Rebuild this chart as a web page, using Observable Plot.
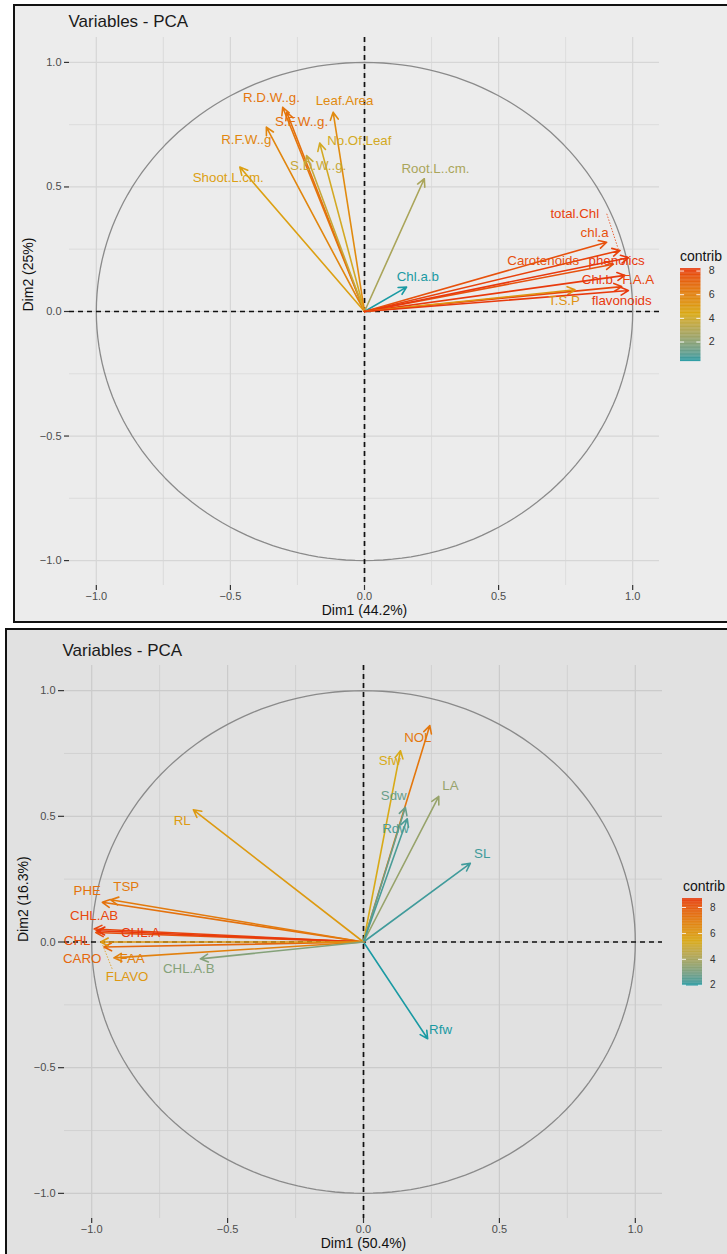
<!DOCTYPE html>
<html><head><meta charset="utf-8">
<script src="https://cdn.jsdelivr.net/npm/d3@7"></script>
<script src="https://cdn.jsdelivr.net/npm/@observablehq/plot@0.6"></script>
<style>
html,body{margin:0;padding:0;background:#fff;}
#page{position:relative;width:727px;height:1254px;overflow:hidden;font-family:"Liberation Sans",Arial,Helvetica,sans-serif;}
.panel{position:absolute;box-sizing:border-box;border:2px solid #111;}
.abs{position:absolute;}
.ltitle{position:absolute;font-size:14px;line-height:16px;color:#111;white-space:nowrap;}
</style></head><body><div id="page"></div>
<script>
// ---------------- DATA ----------------
// Panel A (top)
const topVars = ["Shoot.L.cm.","R.F.W..g","R.D.W..g.","S.F.W..g.","S.D.W..g.","No.Of.Leaf","Leaf.Area","Root.L..cm.","Chl.a.b","total.Chl","chl.a","Carotenoids","phenolics","Chl.b","F.A.A","T.S.P","flavonoids"];
const topDim1 = [-0.465,-0.366,-0.305,-0.290,-0.216,-0.167,-0.117,0.223,0.157,0.953,0.903,0.928,0.985,0.971,0.959,0.785,0.984];
const topDim2 = [0.580,0.740,0.820,0.800,0.626,0.676,0.800,0.533,0.098,0.245,0.278,0.190,0.216,0.145,0.100,0.087,0.084];
const topContrib = [4.7,5.8,6.4,6.6,3.7,4.1,5.6,2.8,0.35,8.0,7.6,7.6,8.22,8.2,7.9,5.3,8.2];
const topTitle = "Variables - PCA";
const topXLabel = "Dim1 (44.2%)";
const topYLabel = "Dim2 (25%)";

// Panel B (bottom)
const botVars = ["RL","NOL","Sfw","LA","Sdw","Rdw","SL","Rfw","PHE","TSP","CHL.AB","CHL","CHL.A","CARO","FAA","FLAVO","CHL.A.B"];
const botDim1 = [-0.626,0.244,0.136,0.277,0.154,0.161,0.393,0.236,-0.961,-0.930,-0.991,-0.985,-0.980,-0.955,-0.918,-0.967,-0.600];
const botDim2 = [0.526,0.861,0.761,0.579,0.536,0.490,0.313,-0.385,0.158,0.168,0.052,0.038,0.045,-0.020,-0.063,0.000,-0.067];
const botContrib = [5.9,7.1,5.3,3.6,2.7,2.3,2.2,1.95,7.3,7.0,8.4,8.2,8.7,7.6,6.8,6.0,3.2];
const botTitle = "Variables - PCA";
const botXLabel = "Dim1 (50.4%)";
const botYLabel = "Dim2 (16.3%)";

// Ticks
const majorTicks = [-1, -0.5, 0, 0.5, 1];
const minorTicks = [-0.75, -0.25, 0.25, 0.75];
const legendTicks = [2, 4, 6, 8];
const legendTitle = "contrib";

// ---------------- LAYOUT / STYLE ----------------
const COLS = ["#1a9aa3", "#d9aa14", "#e8380c"];
const FONT = '"Liberation Sans", Arial, Helvetica, sans-serif';
// label nudges in pixels [dx, dy] (repelled text placement)
const topNudges = {
  "Shoot.L.cm.":[-11.6,11.1],"R.F.W..g":[-20,12.6],"R.D.W..g.":[-11.2,-9.1],"S.F.W..g.":[14.8,9.9],
  "S.D.W..g.":[11.6,10.6],"No.Of.Leaf":[39.6,-2.7],"Leaf.Area":[11.4,-11.1],"Root.L..cm.":[11.2,-10],
  "Chl.a.b":[11.2,-9.9],"total.Chl":[-45.3,-36.7],"chl.a":[-12,-10],"Carotenoids":[-70.2,-3],
  "phenolics":[-12,3.5],"Chl.b":[-27.6,4.4],"F.A.A":[16.5,-6.8],"T.S.P":[-11,10.7],"flavonoids":[-6.7,10.6]
};
const topConnectors = {"total.Chl":[[-13.3,-36.7],[-1.9,-1.7]]};
const botNudges = {
  "RL":[-11.2,10.7],"NOL":[-12,11.7],"Sfw":[-10.7,10.5],"LA":[11.7,-10.9],"Sdw":[-11.6,-11.8],
  "Rdw":[-11.8,10],"SL":[11.9,-9.5],"Rfw":[12.9,-9.3],"PHE":[-15.1,-11.1],"TSP":[15.5,-13.3],
  "CHL.AB":[0,-13.4],"CHL":[-18.6,8],"CHL.A":[43.4,2.5],"CARO":[-21.7,11.8],"FAA":[18.2,1],
  "FLAVO":[26.5,35.2],"CHL.A.B":[-11.6,10]
};
const botConnectors = {"FLAVO":[[11.5,26.8],[1.5,1.8]]};

const page = document.getElementById("page");
function addDiv(cls, css, text) {
  const d = document.createElement("div");
  if (cls) d.className = cls;
  d.style.cssText = css;
  if (text) d.textContent = text;
  page.appendChild(d);
  return d;
}
function place(node, left, top) {
  const w = document.createElement("div");
  w.className = "abs";
  w.style.left = left + "px"; w.style.top = top + "px";
  w.appendChild(node);
  page.appendChild(w);
}
function colorOpts(contrib) {
  const lo = d3.min(contrib), hi = d3.max(contrib);
  return {type: "linear", domain: [lo, (lo + hi) / 2, hi], range: COLS, interpolate: "lab"};
}
const circle = d3.range(0, 361, 2).map(a => ({x: Math.cos(a * Math.PI / 180), y: Math.sin(a * Math.PI / 180)}));

function pcaPlot(cfg) {
  const rows = cfg.vars.map((v, i) => ({name: v, x: cfg.d1[i], y: cfg.d2[i], c: cfg.contrib[i]}));
  const W = 727;
  const sx = (W - cfg.ml - cfg.mr) / 2.2, sy = (cfg.height - cfg.mt - cfg.mb) / 2.2;
  const labelMarks = rows.map(r => {
    const n = cfg.nudges[r.name] || [0, -10];
    return Plot.text([r], {x: "x", y: "y", text: "name", fill: "c", dx: n[0], dy: n[1],
      fontSize: 13.3, fontFamily: FONT, textAnchor: "middle", lineAnchor: "middle"});
  });
  const conn = Object.entries(cfg.connectors).map(([name, [a, b]]) => {
    const r = rows.find(d => d.name === name);
    return {x1: r.x + a[0] / sx, y1: r.y - a[1] / sy, x2: r.x + b[0] / sx, y2: r.y - b[1] / sy, c: r.c};
  });
  const fmt = d3.format(".1f");
  return Plot.plot({
    width: W, height: cfg.height,
    marginLeft: cfg.ml, marginRight: cfg.mr, marginTop: cfg.mt, marginBottom: cfg.mb,
    x: {domain: [-1.1, 1.1]},
    y: {domain: [-1.1, 1.1]},
    color: colorOpts(cfg.contrib),
    style: {background: "transparent", fontFamily: FONT, fontSize: "11px", color: "#4d4d4d", overflow: "visible"},
    marks: [
      Plot.gridX({ticks: minorTicks, stroke: cfg.grid, strokeOpacity: 1, strokeWidth: 0.7}),
      Plot.gridY({ticks: minorTicks, stroke: cfg.grid, strokeOpacity: 1, strokeWidth: 0.7}),
      Plot.gridX({ticks: majorTicks, stroke: cfg.grid, strokeOpacity: 1, strokeWidth: 1.2}),
      Plot.gridY({ticks: majorTicks, stroke: cfg.grid, strokeOpacity: 1, strokeWidth: 1.2}),
      Plot.line(circle, {x: "x", y: "y", stroke: "#8a8a8a", strokeWidth: 1.3}),
      Plot.ruleX([0], {stroke: "#111", strokeWidth: 1.7, strokeDasharray: "5,4"}),
      Plot.ruleY([0], {stroke: "#111", strokeWidth: 1.7, strokeDasharray: "5,4"}),
      Plot.arrow(rows, {x1: 0, y1: 0, x2: "x", y2: "y", stroke: "c", strokeWidth: 1.6, headLength: 8, headAngle: 55}),
      Plot.link(conn, {x1: "x1", y1: "y1", x2: "x2", y2: "y2", stroke: "c", strokeWidth: 0.8, strokeDasharray: "1.5,1.5"}),
      ...labelMarks,
      Plot.axisX({ticks: majorTicks, tickFormat: fmt, tickSize: 5, tickPadding: 2, label: null,
        fontSize: 11, fill: "#4d4d4d", stroke: "#333", strokeWidth: 1.2}),
      Plot.axisY({ticks: majorTicks, tickFormat: fmt, tickSize: cfg.ytick, tickPadding: 3, label: null,
        fontSize: 11, fill: "#4d4d4d", stroke: "#333", strokeWidth: 1.2}),
      Plot.text([cfg.xlab], {frameAnchor: "bottom", dy: cfg.xlabDy, fontSize: 14, fill: "#111", fontFamily: FONT, lineAnchor: "middle"}),
      Plot.text([cfg.ylab], {frameAnchor: "left", dx: cfg.ylabDx, rotate: -90, fontSize: 14, fill: "#111", fontFamily: FONT, lineAnchor: "middle"}),
      Plot.text([cfg.title], {frameAnchor: "top-left", dx: cfg.titleDx, dy: cfg.titleDy, textAnchor: "start", fontSize: 17, fill: "#1a1a1a", fontFamily: FONT, lineAnchor: "middle"})
    ]
  });
}

function colorbar(contrib, w, h) {
  const lo = d3.min(contrib), hi = d3.max(contrib);
  const n = 120;
  const steps = d3.range(n).map(i => ({v0: lo + (hi - lo) * i / n, v1: lo + (hi - lo) * (i + 1.3) / n, v: lo + (hi - lo) * (i + 0.5) / n}));
  const ticks = legendTicks.filter(t => t >= lo && t <= hi);
  return Plot.plot({
    width: w + 30, height: h,
    marginLeft: 0, marginRight: 30, marginTop: 0, marginBottom: 0,
    x: {domain: [0, 1], axis: null},
    y: {domain: [lo, hi]},
    color: colorOpts(contrib),
    style: {background: "transparent", fontFamily: FONT, fontSize: "12px", color: "#333", overflow: "visible"},
    marks: [
      Plot.rect(steps, {x1: 0, x2: 1, y1: "v0", y2: (d) => Math.min(d.v1, hi), fill: "v"}),
      Plot.ruleY(ticks, {x1: 0, x2: 0.2, stroke: "white", strokeWidth: 1}),
      Plot.ruleY(ticks, {x1: 0.8, x2: 1, stroke: "white", strokeWidth: 1}),
      Plot.axisY({anchor: "right", ticks: ticks, tickFormat: d3.format("d"), tickSize: 0, tickPadding: 9, label: null, fontSize: 12, fill: "#333"})
    ]
  });
}

// ---------------- BUILD ----------------
addDiv("panel", "left:13px;top:4px;width:740px;height:619px;background:#ececec;");
addDiv("panel", "left:5px;top:628px;width:760px;height:680px;background:#e1e1e1;");

place(pcaPlot({vars: topVars, d1: topDim1, d2: topDim2, contrib: topContrib,
  nudges: topNudges, connectors: topConnectors, xlab: topXLabel, ylab: topYLabel, title: topTitle,
  height: 623, ml: 69, mr: 68, mt: 37, mb: 38, ytick: 5, xlabDy: 25, ylabDx: -41, titleDx: -1, titleDy: -16,
  grid: "#d6d6d6"}), 0, 0);

place(pcaPlot({vars: botVars, d1: botDim1, d2: botDim2, contrib: botContrib,
  nudges: botNudges, connectors: botConnectors, xlab: botXLabel, ylab: botYLabel, title: botTitle,
  height: 626, ml: 64, mr: 65, mt: 37, mb: 36, ytick: 6, xlabDy: 25, ylabDx: -41, titleDx: -2, titleDy: -15,
  grid: "#cbcbcb"}), 0, 628);

addDiv("ltitle", "left:680px;top:248px;", legendTitle);
place(colorbar(topContrib, 23, 105), 680, 268);
addDiv("ltitle", "left:683px;top:878px;", legendTitle);
place(colorbar(botContrib, 24, 105), 682, 898);
</script></body></html>
